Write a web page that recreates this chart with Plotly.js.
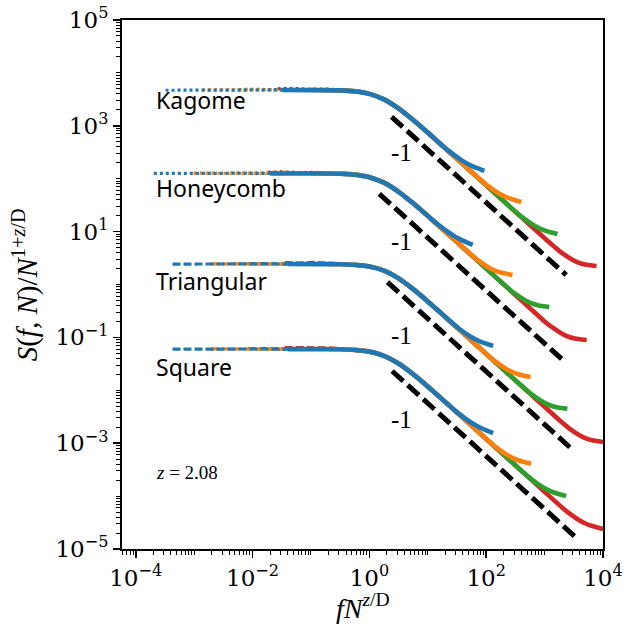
<!DOCTYPE html>
<html>
<head>
<meta charset="utf-8">
<script src="https://cdn.plot.ly/plotly-3.0.1.min.js"></script>
<style>html,body{margin:0;padding:0;background:#fff;}#chart{width:628px;height:629px;}</style>
</head>
<body>
<div id="chart"></div>
<script>
// ---- data: log10(f N^{z/D}) and log10(S/N^{1+z/D}) ----
const kagomeBlueX   = [-3.49,-3.0,-2.5,-2.0,-1.5,-1.0,-0.5,-0.25,0,0.25,0.5,0.75,1.0,1.25,1.37,1.57,1.67,1.77,1.87,1.92,1.97];
const kagomeBlueY   = [3.672,3.675,3.670,3.676,3.678,3.674,3.669,3.651,3.604,3.500,3.328,3.110,2.872,2.625,2.516,2.355,2.289,2.234,2.189,2.168,2.147];
const kagomeOrangeX = [-2.86,-2.5,-2.0,-1.5,-1.0,-0.5,-0.25,0,0.25,0.5,0.75,1.0,1.25,1.5,1.75,2.0,2.2,2.3,2.4,2.5,2.55,2.6];
const kagomeOrangeY = [3.680,3.676,3.681,3.677,3.679,3.670,3.652,3.604,3.500,3.328,3.110,2.872,2.625,2.377,2.127,1.888,1.734,1.673,1.627,1.592,1.576,1.56];
const kagomeGreenX  = [-2.24,-2.0,-1.5,-1.0,-0.5,-0.25,0,0.25,0.5,0.75,1.0,1.25,1.5,1.75,2.0,2.25,2.5,2.62,2.82,2.92,3.02,3.12,3.17,3.22];
const kagomeGreenY  = [3.685,3.690,3.682,3.680,3.671,3.652,3.604,3.500,3.328,3.110,2.872,2.625,2.377,2.127,1.877,1.627,1.377,1.269,1.117,1.058,1.015,0.983,0.969,0.955];
const kagomeRedX    = [-1.57,-1.3,-1.0,-0.75,-0.5,-0.25,0,0.25,0.5,0.75,1.0,1.25,1.5,1.75,2.0,2.25,2.5,2.75,3.0,3.29,3.49,3.59,3.69,3.79,3.84,3.89];
const kagomeRedY    = [3.700,3.705,3.690,3.700,3.678,3.655,3.606,3.500,3.326,3.108,2.870,2.623,2.375,2.125,1.875,1.625,1.375,1.125,0.875,0.602,0.460,0.410,0.379,0.363,0.356,0.35];

const honeyBlueX   = [-3.69,-3.2,-2.7,-2.2,-1.7,-1.2,-0.75,-0.5,-0.25,0,0.25,0.5,0.75,1.0,1.17,1.37,1.47,1.57,1.67,1.72,1.77];
const honeyBlueY   = [2.100,2.104,2.098,2.103,2.101,2.099,2.099,2.094,2.076,2.029,1.925,1.753,1.535,1.297,1.139,0.974,0.905,0.846,0.795,0.771,0.747];
const honeyOrangeX = [-3.01,-2.5,-2.0,-1.5,-1.0,-0.5,-0.25,0,0.25,0.5,0.75,1.0,1.25,1.5,1.85,2.05,2.15,2.25,2.35,2.40,2.45];
const honeyOrangeY = [2.104,2.100,2.105,2.102,2.104,2.095,2.077,2.029,1.925,1.753,1.535,1.297,1.050,0.802,0.465,0.318,0.264,0.226,0.201,0.191,0.18];
const honeyGreenX  = [-2.38,-2.0,-1.5,-1.0,-0.5,-0.25,0,0.25,0.5,0.75,1.0,1.25,1.5,1.75,2.0,2.25,2.48,2.68,2.78,2.88,2.98,3.03,3.08];
const honeyGreenY  = [2.108,2.112,2.105,2.103,2.096,2.077,2.029,1.925,1.753,1.535,1.297,1.050,0.802,0.552,0.302,0.052,-0.164,-0.307,-0.358,-0.391,-0.410,-0.417,-0.425];
const honeyRedX    = [-1.74,-1.5,-1.2,-1.0,-0.75,-0.5,-0.25,0,0.25,0.5,0.75,1.0,1.25,1.5,1.75,2.0,2.25,2.5,2.75,3.0,3.12,3.32,3.42,3.52,3.62,3.67,3.72];
const honeyRedY    = [2.125,2.128,2.115,2.122,2.110,2.097,2.079,2.031,1.925,1.753,1.535,1.297,1.050,0.802,0.552,0.302,0.052,-0.198,-0.448,-0.698,-0.803,-0.944,-0.993,-1.023,-1.038,-1.044,-1.05];

const triBlueX   = [-3.37,-2.9,-2.4,-1.9,-1.4,-0.9,-0.5,-0.25,0,0.25,0.5,0.75,1.0,1.25,1.52,1.72,1.82,1.92,2.02,2.07,2.12];
const triBlueY   = [0.386,0.390,0.385,0.389,0.387,0.386,0.383,0.371,0.339,0.261,0.115,-0.088,-0.320,-0.565,-0.822,-0.978,-1.040,-1.088,-1.125,-1.143,-1.16];
const triOrangeX = [-2.71,-2.2,-1.7,-1.2,-0.7,-0.5,-0.25,0,0.25,0.5,0.75,1.0,1.25,1.5,1.75,2.0,2.16,2.36,2.46,2.56,2.66,2.71,2.76];
const triOrangeY = [0.390,0.386,0.392,0.388,0.385,0.384,0.372,0.339,0.261,0.115,-0.088,-0.320,-0.565,-0.813,-1.062,-1.312,-1.459,-1.608,-1.663,-1.701,-1.727,-1.739,-1.75];
const triGreenX  = [-2.08,-1.6,-1.1,-0.75,-0.5,-0.25,0,0.25,0.5,0.75,1.0,1.25,1.5,1.75,2.0,2.25,2.5,2.79,2.99,3.09,3.19,3.29,3.34,3.39];
const triGreenY  = [0.395,0.392,0.398,0.390,0.385,0.372,0.339,0.261,0.115,-0.088,-0.320,-0.565,-0.813,-1.062,-1.312,-1.562,-1.812,-2.088,-2.232,-2.282,-2.315,-2.334,-2.342,-2.35];
const triRedX    = [-1.45,-1.2,-0.95,-0.7,-0.5,-0.25,0,0.25,0.5,0.75,1.0,1.25,1.5,1.75,2.0,2.25,2.5,2.75,3.0,3.25,3.42,3.62,3.72,3.82,3.92,3.97,4.0];
const triRedY    = [0.415,0.405,0.418,0.408,0.392,0.375,0.341,0.262,0.115,-0.088,-0.320,-0.565,-0.813,-1.062,-1.312,-1.562,-1.812,-2.062,-2.312,-2.562,-2.718,-2.862,-2.912,-2.945,-2.964,-2.972,-2.978];

const sqBlueX   = [-3.37,-2.9,-2.4,-1.9,-1.4,-0.9,-0.5,-0.25,0,0.25,0.5,0.75,1.0,1.25,1.52,1.72,1.82,1.92,2.02,2.07,2.12];
const sqBlueY   = [-1.222,-1.218,-1.223,-1.219,-1.221,-1.222,-1.225,-1.237,-1.269,-1.347,-1.493,-1.696,-1.928,-2.173,-2.432,-2.594,-2.662,-2.718,-2.765,-2.788,-2.81];
const sqOrangeX = [-2.71,-2.2,-1.7,-1.2,-0.7,-0.5,-0.25,0,0.25,0.5,0.75,1.0,1.25,1.5,1.75,2.0,2.17,2.37,2.47,2.57,2.67,2.72,2.77];
const sqOrangeY = [-1.218,-1.222,-1.216,-1.220,-1.224,-1.225,-1.236,-1.269,-1.347,-1.493,-1.696,-1.928,-2.173,-2.421,-2.67,-2.92,-3.078,-3.23,-3.288,-3.331,-3.362,-3.376,-3.39];
const sqGreenX  = [-2.08,-1.6,-1.1,-0.75,-0.5,-0.25,0,0.25,0.5,0.75,1.0,1.25,1.5,1.75,2.0,2.25,2.5,2.77,2.97,3.07,3.17,3.27,3.32,3.37];
const sqGreenY  = [-1.210,-1.214,-1.208,-1.215,-1.222,-1.236,-1.269,-1.347,-1.493,-1.696,-1.928,-2.173,-2.421,-2.67,-2.92,-3.17,-3.42,-3.678,-3.832,-3.891,-3.936,-3.97,-3.985,-4.0];
const sqRedX    = [-1.45,-1.2,-0.95,-0.7,-0.5,-0.25,0,0.25,0.5,0.75,1.0,1.25,1.5,1.75,2.0,2.25,2.5,2.75,3.0,3.2,3.4,3.6,3.7,3.8,3.9,3.95,4.0];
const sqRedY    = [-1.192,-1.195,-1.188,-1.198,-1.212,-1.232,-1.266,-1.345,-1.491,-1.694,-1.926,-2.171,-2.419,-2.668,-2.918,-3.168,-3.418,-3.668,-3.918,-4.118,-4.308,-4.46,-4.518,-4.561,-4.592,-4.606,-4.62];

// slope -1 guide lines (log10 endpoints)
const guideKagomeX = [0.38, 3.37],  guideKagomeY = [3.17, 0.18];
const guideHoneyX  = [0.17, 3.30],  guideHoneyY  = [1.715, -1.415];
const guideTriX    = [0.31, 3.48],  guideTriY    = [0.045, -3.125];
const guideSqX     = [0.39, 3.51],  guideSqY     = [-1.635, -4.755];

const latticeNames = ["Kagome", "Honeycomb", "Triangular", "Square"];
const latticeLabelY = [3.49, 1.82, 0.066, -1.56];
const slopeLabelY = [2.486, 0.822, -0.955, -2.56];
const slopeText = "-1";
const zText = "<i>z</i> = 2.08";
const xTickVals = [-4, -2, 0, 2, 4];
const yTickVals = [-5, -3, -1, 1, 3, 5];

// ---- build ----
const C = {blue: "#1f77b4", orange: "#ff7f0e", green: "#2ca02c", red: "#d62728"};
const pw = v => Math.pow(10, v);
const traces = [];
function addSeries(xs, ys, color, dash) {
  const thr = xs[0] + 1.7;
  let k = 0;
  while (k < xs.length - 1 && xs[k + 1] <= thr) k++;
  const dEnd = Math.min(k + 1, xs.length - 1);
  traces.push({x: xs.slice(0, dEnd + 1).map(pw), y: ys.slice(0, dEnd + 1).map(pw), mode: "lines",
    line: {color: color, width: 3.2, dash: dash}, hoverinfo: "skip", showlegend: false});
  traces.push({x: xs.slice(dEnd).map(pw), y: ys.slice(dEnd).map(pw), mode: "lines",
    line: {color: color, width: 4.6, shape: "spline", smoothing: 0.6}, hoverinfo: "skip", showlegend: false});
}
const groups = [
  [[kagomeRedX,kagomeRedY],[kagomeGreenX,kagomeGreenY],[kagomeOrangeX,kagomeOrangeY],[kagomeBlueX,kagomeBlueY],"3px,3px"],
  [[honeyRedX,honeyRedY],[honeyGreenX,honeyGreenY],[honeyOrangeX,honeyOrangeY],[honeyBlueX,honeyBlueY],"3px,3px"],
  [[triRedX,triRedY],[triGreenX,triGreenY],[triOrangeX,triOrangeY],[triBlueX,triBlueY],"8px,3px"],
  [[sqRedX,sqRedY],[sqGreenX,sqGreenY],[sqOrangeX,sqOrangeY],[sqBlueX,sqBlueY],"8px,3px"]
];
groups.forEach(g => {
  const cols = [C.red, C.green, C.orange, C.blue];
  for (let i = 0; i < 4; i++) addSeries(g[i][0], g[i][1], cols[i], g[4]);
});
[[guideKagomeX,guideKagomeY],[guideHoneyX,guideHoneyY],[guideTriX,guideTriY],[guideSqX,guideSqY]].forEach(p => {
  traces.push({x: p[0].map(pw), y: p[1].map(pw), mode: "lines",
    line: {color: "black", width: 5, dash: "15px,6px"}, hoverinfo: "skip", showlegend: false});
});

function minorVals(lo, hi) {
  const out = [];
  for (let d = lo; d <= hi; d++) for (let k = 1; k <= 9; k++) out.push(k * Math.pow(10, d));
  return out;
}
const sup = v => "10<sup>" + (v < 0 ? "\u2212" + (-v) : v) + "</sup>";
const serif = "Liberation Serif, DejaVu Serif, serif";
const tickSerif = "DejaVu Serif, serif";
const axisBase = {
  type: "log", showline: true, linecolor: "black", linewidth: 2, mirror: true,
  ticks: "outside", ticklen: 7, tickwidth: 1.6, tickcolor: "black",
  showgrid: false, zeroline: false,
  tickfont: {family: tickSerif, size: 23, color: "black"},
  tickmode: "array"
};
const layout = {
  width: 628, height: 629,
  margin: {l: 122, r: 25, t: 20, b: 80},
  paper_bgcolor: "white", plot_bgcolor: "white",
  showlegend: false,
  xaxis: Object.assign({}, axisBase, {
    range: [-4.235, 4.0],
    tickvals: xTickVals.map(pw), ticktext: xTickVals.map(sup),
    minor: {tickmode: "array", tickvals: minorVals(-5, 4), ticks: "outside", ticklen: 4, tickwidth: 1, tickcolor: "black", showgrid: false}
  }),
  yaxis: Object.assign({}, axisBase, {
    range: [-5, 5],
    tickvals: yTickVals.map(pw), ticktext: yTickVals.map(sup),
    minor: {tickmode: "array", tickvals: minorVals(-6, 5), ticks: "outside", ticklen: 4, tickwidth: 1, tickcolor: "black", showgrid: false}
  }),
  annotations: []
};
latticeNames.forEach((n, i) => {
  layout.annotations.push({x: -3.68, y: latticeLabelY[i], xref: "x", yref: "y", text: n, showarrow: false,
    xanchor: "left", yanchor: "middle", font: {family: "Noto Sans, sans-serif", size: 23, color: "black"}});
  layout.annotations.push({x: 0.55, y: slopeLabelY[i], xref: "x", yref: "y", text: slopeText, showarrow: false,
    xanchor: "center", yanchor: "middle", font: {family: serif, size: 25, color: "black"}});
});
layout.annotations.push({x: -3.68, y: -3.56, xref: "x", yref: "y", text: zText, showarrow: false,
  xanchor: "left", yanchor: "middle", font: {family: serif, size: 19, color: "black"}});
layout.annotations.push({x: 0.5, y: -0.072, xref: "paper", yref: "paper", yanchor: "top", xanchor: "center",
  text: "<i>fN</i><sup><i>z</i>/D</sup>", showarrow: false, font: {family: serif, size: 28, color: "black"}});
layout.annotations.push({x: -0.2, y: 0.5, xref: "paper", yref: "paper", xanchor: "center", yanchor: "middle", textangle: -90,
  text: "<i>S</i>(<i>f</i>, <i>N</i>)/<i>N</i><sup>1+<i>z</i>/D</sup>", showarrow: false, font: {family: serif, size: 29, color: "black"}});

Plotly.newPlot("chart", traces, layout, {staticPlot: true, displayModeBar: false});
</script>
</body>
</html>
